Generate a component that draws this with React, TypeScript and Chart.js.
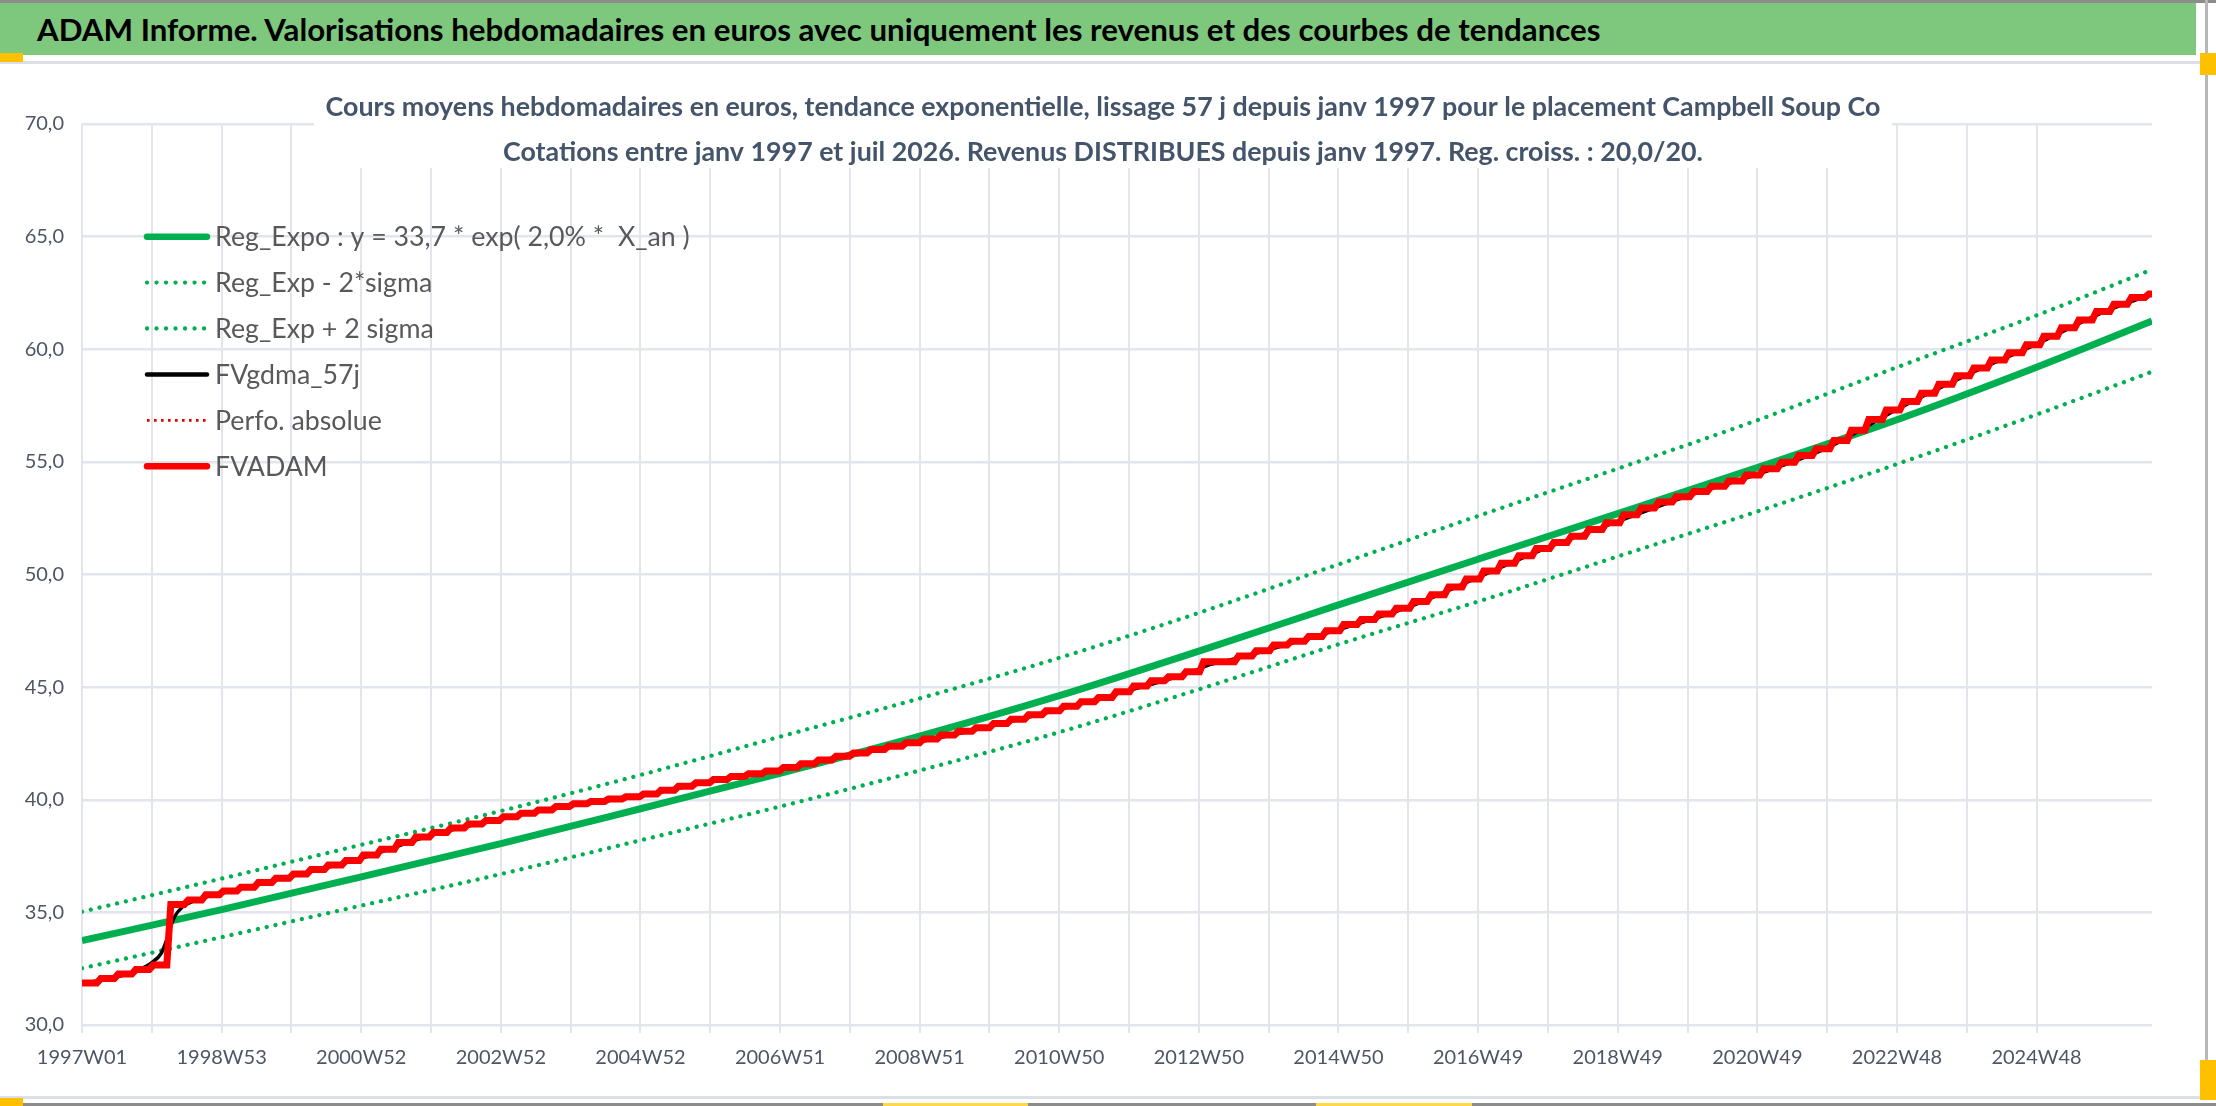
import React, { useEffect, useMemo, useRef } from 'react';
import { Chart, registerables } from 'chart.js';

Chart.register(...registerables);

const FONT = 'Lato, "Open Sans", sans-serif';

const bannerText =
  'ADAM Informe. Valorisations hebdomadaires en euros avec uniquement les revenus et des courbes de tendances';
const titleLines = [
  'Cours moyens hebdomadaires en euros, tendance exponentielle, lissage 57 j depuis janv 1997 pour le placement Campbell Soup Co',
  'Cotations entre janv 1997 et juil 2026. Revenus DISTRIBUES depuis janv 1997. Reg. croiss. : 20,0/20.',
];

// x values are week indexes, 0 = 1997W01
const tickLabels = [
  '1997W01', '1998W53', '2000W52', '2002W52', '2004W52', '2006W51', '2008W51', '2010W50',
  '2012W50', '2014W50', '2016W49', '2018W49', '2020W49', '2022W48', '2024W48',
];
const lastWeek = 1542;

// trend curves, read every 104 weeks
const trendWeeks = [0, 104, 208, 312, 416, 520, 624, 728, 832, 936, 1040, 1144, 1248, 1352, 1456, 1542];
const regExpo = [33.75, 35.12, 36.58, 38.05, 39.6, 41.17, 42.82, 44.62, 46.6, 48.65, 50.68, 52.7, 54.75, 56.87, 59.2, 61.25];
const regExpMinus = [32.52, 33.9, 35.3, 36.7, 38.2, 39.7, 41.3, 43.0, 44.9, 46.9, 48.8, 50.8, 52.8, 54.9, 57.1, 59.0];
const regExpPlus = [35.03, 36.5, 38.0, 39.5, 41.1, 42.8, 44.5, 46.3, 48.3, 50.45, 52.6, 54.7, 56.85, 59.2, 61.5, 63.54];

// FVADAM: one level per quarter (revenue paid every quarter from week 14)
const firstPayWeek = 14;
const quarterWeeks = 13.04;
const riseWeeks = 3;
const fvadamLevels = [
  31.86, 32.06, 32.26, 32.46, 32.66,
  35.35, 35.55, 35.78, 35.95, 36.12,
  36.33, 36.52, 36.7, 36.9, 37.1,
  37.3, 37.55, 37.8, 38.1, 38.35,
  38.55, 38.75, 38.92, 39.08, 39.25,
  39.4, 39.55, 39.7, 39.82, 39.92,
  40.03, 40.13, 40.25, 40.42, 40.6,
  40.75, 40.9, 41.03, 41.15, 41.28,
  41.43, 41.6, 41.77, 41.93, 42.08,
  42.23, 42.38, 42.53, 42.7, 42.87,
  43.04, 43.2, 43.38, 43.57, 43.77,
  43.95, 44.15, 44.35, 44.54, 44.79,
  45.05, 45.28, 45.46, 45.68, 46.13,
  46.13, 46.38, 46.62, 46.87, 47.04,
  47.25, 47.5, 47.78, 48.0, 48.25,
  48.5, 48.8, 49.1, 49.45, 49.8,
  50.15, 50.5, 50.83, 51.15, 51.42,
  51.7, 52.0, 52.3, 52.65, 52.95,
  53.22, 53.45, 53.68, 53.92, 54.15,
  54.42, 54.7, 54.98, 55.28, 55.58,
  55.95, 56.4, 56.88, 57.3, 57.68,
  58.05, 58.45, 58.82, 59.17, 59.52,
  59.85, 60.2, 60.58, 60.95, 61.3,
  61.68, 62.0, 62.3, 62.45,
];

// FVgdma_57j (smoothed), mostly hidden under FVADAM
const gdmaWeeks = [
  0, 14, 27, 40, 46, 52, 59, 63, 66, 69,
  75, 83, 104, 156, 208, 260, 312, 364, 416, 468,
  520, 572, 624, 676, 728, 780, 815, 830, 840, 850,
  884, 936, 988, 1040, 1092, 1144, 1196, 1248, 1300, 1352,
  1404, 1456, 1508, 1542,
];
const gdmaValues = [
  31.88, 31.98, 32.16, 32.36, 32.55, 32.77, 33.18, 33.77, 34.36, 34.81,
  35.25, 35.5, 35.85, 36.6, 37.4, 38.42, 39.15, 39.74, 40.17, 40.8,
  41.32, 41.98, 42.57, 43.25, 44.0, 44.85, 45.45, 45.75, 46.0, 46.13,
  46.66, 47.55, 48.55, 49.87, 51.2, 52.35, 53.48, 54.45, 55.62, 57.33,
  58.85, 60.23, 61.7, 62.45,
];

const legendLabels = [
  'Reg_Expo : y = 33,7 * exp( 2,0% *  X_an )',
  'Reg_Exp - 2*sigma',
  'Reg_Exp + 2 sigma',
  'FVgdma_57j',
  'Perfo. absolue',
  'FVADAM',
];

const GREEN = '#00b050';
const RED = '#ff0000';
const GRID = '#e2e5eb';
const TICK_COLOR = '#4d5666';

const fitSize = (ctx: CanvasRenderingContext2D, weight: string, text: string, target: number) => {
  ctx.font = `${weight} 20px ${FONT}`;
  return (20 * target) / ctx.measureText(text).width;
};

// title with a white box over the grid
const titlePlugin = {
  id: 'titleBox',
  beforeDatasetsDraw(chart: any) {
    const { ctx, width } = chart;
    ctx.save();
    ctx.fillStyle = '#ffffff';
    ctx.fillRect(314, 0, 1578, 104);
    const size = fitSize(ctx, 'bold', titleLines[0], 1556);
    ctx.font = `bold ${size}px ${FONT}`;
    ctx.fillStyle = '#44546a';
    ctx.textAlign = 'center';
    ctx.textBaseline = 'middle';
    ctx.fillText(titleLines[0], width / 2 + 3, 43);
    ctx.fillText(titleLines[1], width / 2 + 3, 88);
    ctx.restore();
  },
};

// legend drawn inside the plot, top left
const legendPlugin = {
  id: 'legendInside',
  afterDatasetsDraw(chart: any) {
    const { ctx } = chart;
    const datasets = chart.data.datasets;
    ctx.save();
    const size = fitSize(ctx, 'normal', datasets[0].label, 475);
    datasets.forEach((ds: any, i: number) => {
      const y = 172.7 + i * 45.9;
      ctx.strokeStyle = ds.borderColor;
      ctx.lineWidth = ds.legendWidth;
      ctx.setLineDash(ds.legendDash || []);
      ctx.lineCap = ds.legendCap;
      ctx.beginPath();
      ctx.moveTo(147, y);
      ctx.lineTo(207, y);
      ctx.stroke();
      ctx.setLineDash([]);
      ctx.font = `normal ${size}px ${FONT}`;
      ctx.fillStyle = '#595959';
      ctx.textAlign = 'left';
      ctx.textBaseline = 'middle';
      ctx.fillText(ds.label, 215, y + 1);
    });
    ctx.restore();
  },
};

const toPoints = (xs: number[], ys: number[]) => xs.map((x, i) => ({ x, y: ys[i] }));

const ChartCanvas: React.FC = () => {
  const canvasRef = useRef<HTMLCanvasElement>(null);
  const chartRef = useRef<Chart | null>(null);

  useEffect(() => {
    if (!canvasRef.current) return;
    const ctx = canvasRef.current.getContext('2d');
    if (!ctx) return;
    if (chartRef.current) chartRef.current.destroy();

    // each quarter: flat level, then a short rise to the next level
    const fvadamPoints = [{ x: 0, y: fvadamLevels[0] }];
    for (let j = 1; j < fvadamLevels.length; j++) {
      const x = firstPayWeek + (j - 1) * quarterWeeks;
      fvadamPoints.push({ x: x - riseWeeks, y: fvadamLevels[j - 1] }, { x, y: fvadamLevels[j] });
    }
    fvadamPoints.push({ x: lastWeek, y: fvadamLevels[fvadamLevels.length - 1] });

    const dotted = {
      borderColor: GREEN,
      borderWidth: 4.3,
      borderDash: [0.01, 9],
      borderCapStyle: 'round',
      cubicInterpolationMode: 'monotone',
      legendWidth: 4.3,
      legendDash: [0.01, 9.5],
      legendCap: 'round',
    };

    chartRef.current = new Chart(ctx, {
      type: 'line',
      data: {
        datasets: [
          {
            label: legendLabels[0],
            data: toPoints(trendWeeks, regExpo),
            borderColor: GREEN,
            borderWidth: 7,
            cubicInterpolationMode: 'monotone',
            order: 3,
            legendWidth: 6.5,
            legendCap: 'round',
          } as any,
          { label: legendLabels[1], data: toPoints(trendWeeks, regExpMinus), order: 5, ...dotted } as any,
          { label: legendLabels[2], data: toPoints(trendWeeks, regExpPlus), order: 4, ...dotted } as any,
          {
            label: legendLabels[3],
            data: toPoints(gdmaWeeks, gdmaValues),
            borderColor: '#000000',
            borderWidth: 3.5,
            cubicInterpolationMode: 'monotone',
            order: 1,
            legendWidth: 4.5,
            legendCap: 'round',
          } as any,
          {
            label: legendLabels[4],
            data: [],
            borderColor: '#e00000',
            borderWidth: 2.5,
            borderDash: [2.5, 4.5],
            order: 2,
            legendWidth: 2.8,
            legendDash: [2.6, 4.4],
            legendCap: 'butt',
          } as any,
          {
            label: legendLabels[5],
            data: fvadamPoints,
            borderColor: RED,
            borderWidth: 7,
            borderJoinStyle: 'miter',
            order: 0,
            legendWidth: 6.5,
            legendCap: 'round',
          } as any,
        ],
      },
      options: {
        animation: false,
        responsive: true,
        maintainAspectRatio: false,
        layout: { padding: { left: 0, right: 48, top: 60, bottom: 0 } },
        elements: { point: { radius: 0, hoverRadius: 0 } },
        plugins: {
          legend: { display: false },
          title: { display: false },
          tooltip: { enabled: false },
        },
        scales: {
          x: {
            type: 'linear',
            min: 0,
            max: lastWeek,
            afterBuildTicks: (axis: any) => {
              axis.ticks = axis.ticks.filter((t: any) => t.value % 52 === 0);
            },
            afterFit: (s: any) => {
              s.height = 71;
            },
            ticks: {
              stepSize: 52,
              autoSkip: false,
              maxRotation: 0,
              padding: 13,
              color: TICK_COLOR,
              font: { family: FONT, size: 20 },
              callback: (v: any) => (v % 104 === 0 ? tickLabels[v / 104] ?? '' : ''),
            },
            grid: { color: GRID, lineWidth: 2, tickLength: 8 },
            border: { display: false },
          },
          y: {
            min: 30,
            max: 70,
            afterFit: (s: any) => {
              s.width = 82;
            },
            ticks: {
              stepSize: 5,
              padding: 18,
              color: TICK_COLOR,
              font: { family: FONT, size: 20 },
              callback: (v: any) => Number(v).toFixed(1).replace('.', ','),
            },
            grid: { color: GRID, lineWidth: 2.5, drawTicks: false },
            border: { display: false },
          },
        },
      } as any,
      plugins: [titlePlugin, legendPlugin],
    });

    return () => {
      if (chartRef.current) {
        chartRef.current.destroy();
        chartRef.current = null;
      }
    };
  }, []);

  return (
    <div style={{ position: 'absolute', left: 0, top: 64, width: 2200, height: 1032 }}>
      <canvas ref={canvasRef} />
    </div>
  );
};

const bar = (left: number, top: number, width: number, height: number, background: string) => (
  <div style={{ position: 'absolute', left, top, width, height, background }} />
);

const App: React.FC = () => {
  const bannerSize = useMemo(() => {
    const c = document.createElement('canvas').getContext('2d');
    return c ? fitSize(c, 'bold', bannerText, 1565) : 27;
  }, []);

  return (
    <div
      style={{
        position: 'absolute',
        left: 0,
        top: 0,
        width: 2216,
        height: 1106,
        overflow: 'hidden',
        background: '#ffffff',
        fontFamily: FONT,
      }}
    >
      {bar(0, 0, 2216, 3, '#8c8c8c')}
      <div
        style={{
          position: 'absolute',
          left: 0,
          top: 3,
          width: 2196,
          height: 52,
          background: '#7ec87e',
          display: 'flex',
          alignItems: 'center',
        }}
      >
        <span style={{ marginLeft: 37, fontWeight: 'bold', fontSize: bannerSize, color: '#000', whiteSpace: 'nowrap' }}>
          {bannerText}
        </span>
      </div>
      {bar(0, 61, 2200, 3, '#dcdfe5')}
      {bar(2205, 0, 3, 1100, '#b8b8b8')}
      {bar(0, 1096, 2205, 3, '#dcdfe5')}
      {bar(0, 1103, 2216, 3, '#8c8c8c')}
      {bar(0, 53, 23, 9, '#ffc000')}
      {bar(2200, 53, 16, 22, '#ffc000')}
      {bar(0, 1098, 23, 8, '#ffc000')}
      {bar(2200, 1060, 16, 40, '#ffc000')}
      {bar(883, 1103, 145, 3, '#ffd84a')}
      {bar(1316, 1103, 156, 3, '#ffd84a')}
      <ChartCanvas />
    </div>
  );
};

export default App;
